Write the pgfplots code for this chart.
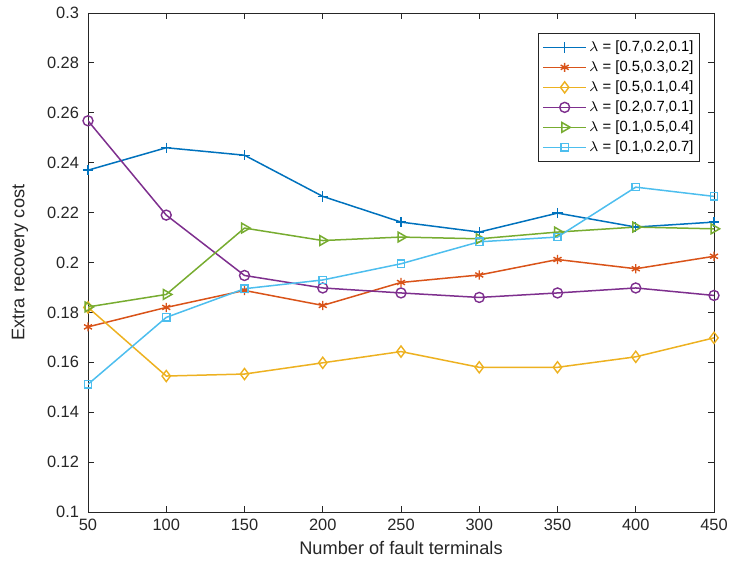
\documentclass[border=0pt]{standalone}
\usepackage{pgfplots}
\pgfplotsset{compat=1.18}
\usepackage{fontspec}
\setmainfont{Liberation Sans}
\definecolor{mblue}{rgb}{0,0.447,0.741}
\definecolor{mred}{rgb}{0.85,0.325,0.098}
\definecolor{myellow}{rgb}{0.929,0.694,0.125}
\definecolor{mpurple}{rgb}{0.494,0.184,0.556}
\definecolor{mgreen}{rgb}{0.466,0.674,0.188}
\definecolor{mcyan}{rgb}{0.301,0.745,0.933}
\definecolor{axgray}{rgb}{0.15,0.15,0.15}
\begin{document}
\begin{tikzpicture}
\begin{axis}[
  scale only axis,
  width=313pt, height=249.5pt,
  xmin=50, xmax=450, ymin=0.1, ymax=0.3,
  xtick={50,100,...,450},
  ytick={0.1,0.12,...,0.31},
  axis line style={axgray, line width=0.4pt},
  tick style={axgray, line width=0.4pt},
  major tick length=3pt,
  tick align=inside,
  every tick label/.append style={font=\fontsize{8.2}{9}\selectfont, text=axgray},
  /pgf/number format/assume math mode=true,
  yticklabel style={/pgf/number format/fixed, /pgf/number format/precision=2, xshift=-1pt},
  xticklabel style={/pgf/number format/fixed},
  xlabel={Number of fault terminals},
  ylabel={Extra recovery cost},
  label style={font=\fontsize{9.1}{10}\selectfont, text=axgray},
  xlabel style={at={(axis description cs:0.5,-0.072)}, anchor=center},
  ylabel style={at={(axis description cs:-0.1086,0.5)}, anchor=center},
  legend style={at={(0.9776,0.96)}, anchor=north east, draw=axgray, line width=0.4pt,
    font=\fontsize{7.4}{8.5}\selectfont, inner sep=2pt, row sep=0pt,
    nodes={inner sep=1pt, text height=6pt, text depth=2pt},
    cells={anchor=west}},
  legend image code/.code={
    \draw[mark repeat=2,mark phase=2,#1, line width=0.75pt] plot coordinates {(0cm,0cm) (0.38cm,0cm) (0.76cm,0cm)};
  },
  every axis plot/.append style={line width=0.75pt, mark options={solid, line width=0.7pt}},
]
\addplot[color=mblue, mark=+, mark size=2.6pt] coordinates {
(50,0.237) (100,0.246) (150,0.243) (200,0.2265) (250,0.2162) (300,0.2122) (350,0.2198) (400,0.2142) (450,0.2162)};
\addlegendentry{$\lambda$ = [0.7,0.2,0.1]}
\addplot[color=mred, mark=asterisk, mark size=2.3pt] coordinates {
(50,0.1742) (100,0.182) (150,0.1888) (200,0.1828) (250,0.192) (300,0.195) (350,0.2012) (400,0.1975) (450,0.2025)};
\addlegendentry{$\lambda$ = [0.5,0.3,0.2]}
\addplot[color=myellow, mark=diamond, mark size=2.8pt] coordinates {
(50,0.182) (100,0.1545) (150,0.1553) (200,0.1598) (250,0.1643) (300,0.158) (350,0.158) (400,0.1622) (450,0.1698)};
\addlegendentry{$\lambda$ = [0.5,0.1,0.4]}
\addplot[color=mpurple, mark=o, mark size=2.5pt] coordinates {
(50,0.2568) (100,0.219) (150,0.1948) (200,0.1898) (250,0.1878) (300,0.186) (350,0.1878) (400,0.1898) (450,0.1868)};
\addlegendentry{$\lambda$ = [0.2,0.7,0.1]}
\addplot[color=mgreen, mark=triangle, mark size=2.8pt, mark options={rotate=-90}] coordinates {
(50,0.1822) (100,0.1872) (150,0.2138) (200,0.2088) (250,0.2102) (300,0.2095) (350,0.2122) (400,0.2142) (450,0.2135)};
\addlegendentry{$\lambda$ = [0.1,0.5,0.4]}
\addplot[color=mcyan, mark=square, mark size=1.8pt] coordinates {
(50,0.1512) (100,0.178) (150,0.1895) (200,0.193) (250,0.1995) (300,0.2083) (350,0.2102) (400,0.2302) (450,0.2265)};
\addlegendentry{$\lambda$ = [0.1,0.2,0.7]}
\end{axis}
\pgfresetboundingbox
\path[use as bounding box] ([shift={(-44pt,-25.5pt)}]current axis.south west) rectangle ([shift={(7.5pt,6.5pt)}]current axis.north east);
\end{tikzpicture}
\end{document}
